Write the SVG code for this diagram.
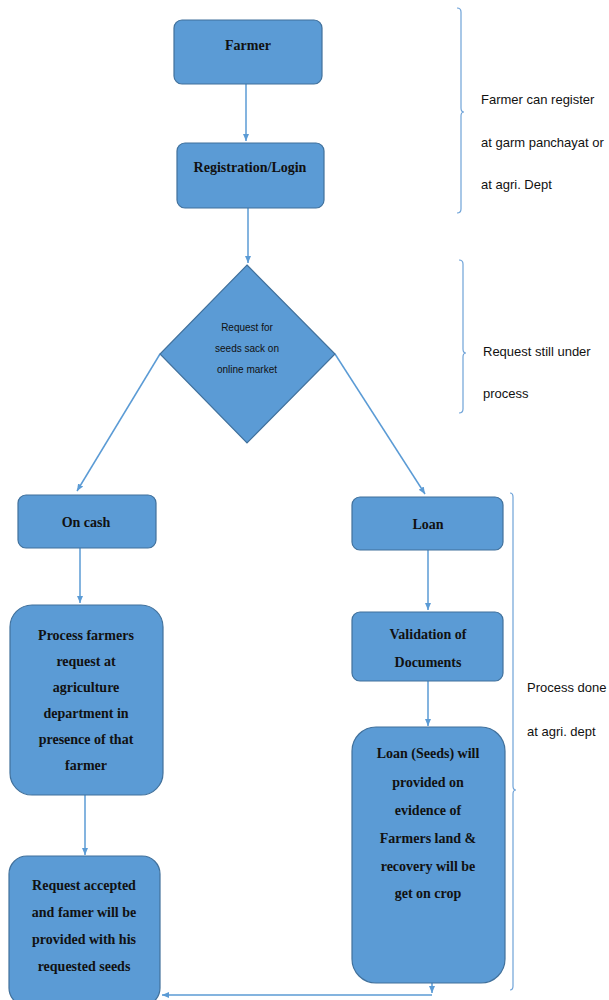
<svg xmlns="http://www.w3.org/2000/svg" width="609" height="1000" viewBox="0 0 609 1000">
<defs>
<marker id="ah" markerWidth="8" markerHeight="8" refX="7" refY="4" orient="auto" markerUnits="userSpaceOnUse">
<path d="M0,1 L7,4 L0,7 Z" fill="#5B9BD5"/>
</marker>
<style>
.box{fill:#5B9BD5;stroke:#41719C;stroke-width:1.2}
.t{font-family:"Liberation Serif",serif;font-weight:bold;font-size:14px;fill:#111;text-anchor:middle}
.ts{font-family:"Liberation Sans",sans-serif;font-size:10px;fill:#111;text-anchor:middle}
.note{font-family:"Liberation Sans",sans-serif;font-size:13px;fill:#111}
.c{stroke:#5B9BD5;stroke-width:1.5;fill:none}
.br{stroke:#6FA3D8;stroke-width:1.2;fill:none}
</style>
</defs>
<rect width="609" height="1000" fill="#fff"/>
<g id="connectors">
<line class="c" x1="246" y1="84" x2="246" y2="141" marker-end="url(#ah)"/>
<line class="c" x1="248" y1="208" x2="248" y2="263" marker-end="url(#ah)"/>
<line class="c" x1="160" y1="354" x2="77" y2="491" marker-end="url(#ah)"/>
<line class="c" x1="335" y1="354" x2="425" y2="494" marker-end="url(#ah)"/>
<line class="c" x1="80" y1="548" x2="80" y2="603" marker-end="url(#ah)"/>
<line class="c" x1="85" y1="795" x2="85" y2="855" marker-end="url(#ah)"/>
<line class="c" x1="428" y1="550" x2="428" y2="610" marker-end="url(#ah)"/>
<line class="c" x1="428" y1="681" x2="428" y2="726" marker-end="url(#ah)"/>
<line class="c" x1="432" y1="983" x2="432" y2="993" marker-end="url(#ah)"/>
<polyline class="c" points="432,995 162,995" marker-end="url(#ah)"/>
</g>
<g id="farmer"><rect class="box" x="174" y="20" width="148" height="64" rx="8"/><text class="t" x="248" y="50">Farmer</text></g>
<g id="registration"><rect class="box" x="177" y="143" width="147" height="65" rx="8"/><text class="t" x="250" y="172">Registration/Login</text></g>
<g id="request"><polygon class="box" points="247,265 335,354 247,443 160,354"/>
<text class="ts" x="247" y="331">Request for</text><text class="ts" x="247" y="352">seeds sack on</text><text class="ts" x="247" y="373">online market</text></g>
<g id="oncash"><rect class="box" x="18" y="495" width="138" height="53" rx="8"/><text class="t" x="86" y="527">On cash</text></g>
<g id="loan"><rect class="box" x="352" y="497" width="151" height="53" rx="8"/><text class="t" x="428" y="529">Loan</text></g>
<g id="process"><rect class="box" x="10" y="605" width="153" height="190" rx="22"/>
<text class="t" x="86" y="640">Process farmers</text><text class="t" x="86" y="666">request at</text><text class="t" x="86" y="692">agriculture</text><text class="t" x="86" y="718">department in</text><text class="t" x="86" y="744">presence of that</text><text class="t" x="86" y="770">farmer</text></g>
<g id="accepted"><rect class="box" x="9" y="856" width="151" height="150" rx="18"/>
<text class="t" x="84" y="890">Request accepted</text><text class="t" x="84" y="917">and famer will be</text><text class="t" x="84" y="944">provided with his</text><text class="t" x="84" y="971">requested seeds</text></g>
<g id="validation"><rect class="box" x="352" y="612" width="151" height="69" rx="8"/>
<text class="t" x="428" y="639">Validation of</text><text class="t" x="428" y="667">Documents</text></g>
<g id="loanseeds"><rect class="box" x="352" y="727" width="153" height="256" rx="24"/>
<text class="t" x="428" y="758">Loan (Seeds) will</text><text class="t" x="428" y="787">provided on</text><text class="t" x="428" y="815">evidence of</text><text class="t" x="428" y="843">Farmers land &amp;</text><text class="t" x="428" y="871">recovery will be</text><text class="t" x="428" y="898">get on crop</text></g>
<g id="notes">
<path class="br" d="M457,8 Q461,8 461,12 L461,108 Q461,112 464,112 Q461,112 461,116 L461,209 Q461,213 457,213"/>
<text class="note" x="481" y="104">Farmer can register</text>
<text class="note" x="481" y="147">at garm panchayat or</text>
<text class="note" x="481" y="189">at agri. Dept</text>
<path class="br" d="M459,260 Q463,260 463,264 L463,349 Q463,353 466,353 Q463,353 463,357 L463,409 Q463,413 459,413"/>
<text class="note" x="483" y="356">Request still under</text>
<text class="note" x="483" y="398">process</text>
<path class="br" d="M510,493 Q513,493 513,497 L513,786 Q513,790 516,790 Q513,790 513,794 L513,986 Q513,990 510,990"/>
<text class="note" x="527" y="692">Process done</text>
<text class="note" x="527" y="736">at agri. dept</text>
</g>
</svg>
